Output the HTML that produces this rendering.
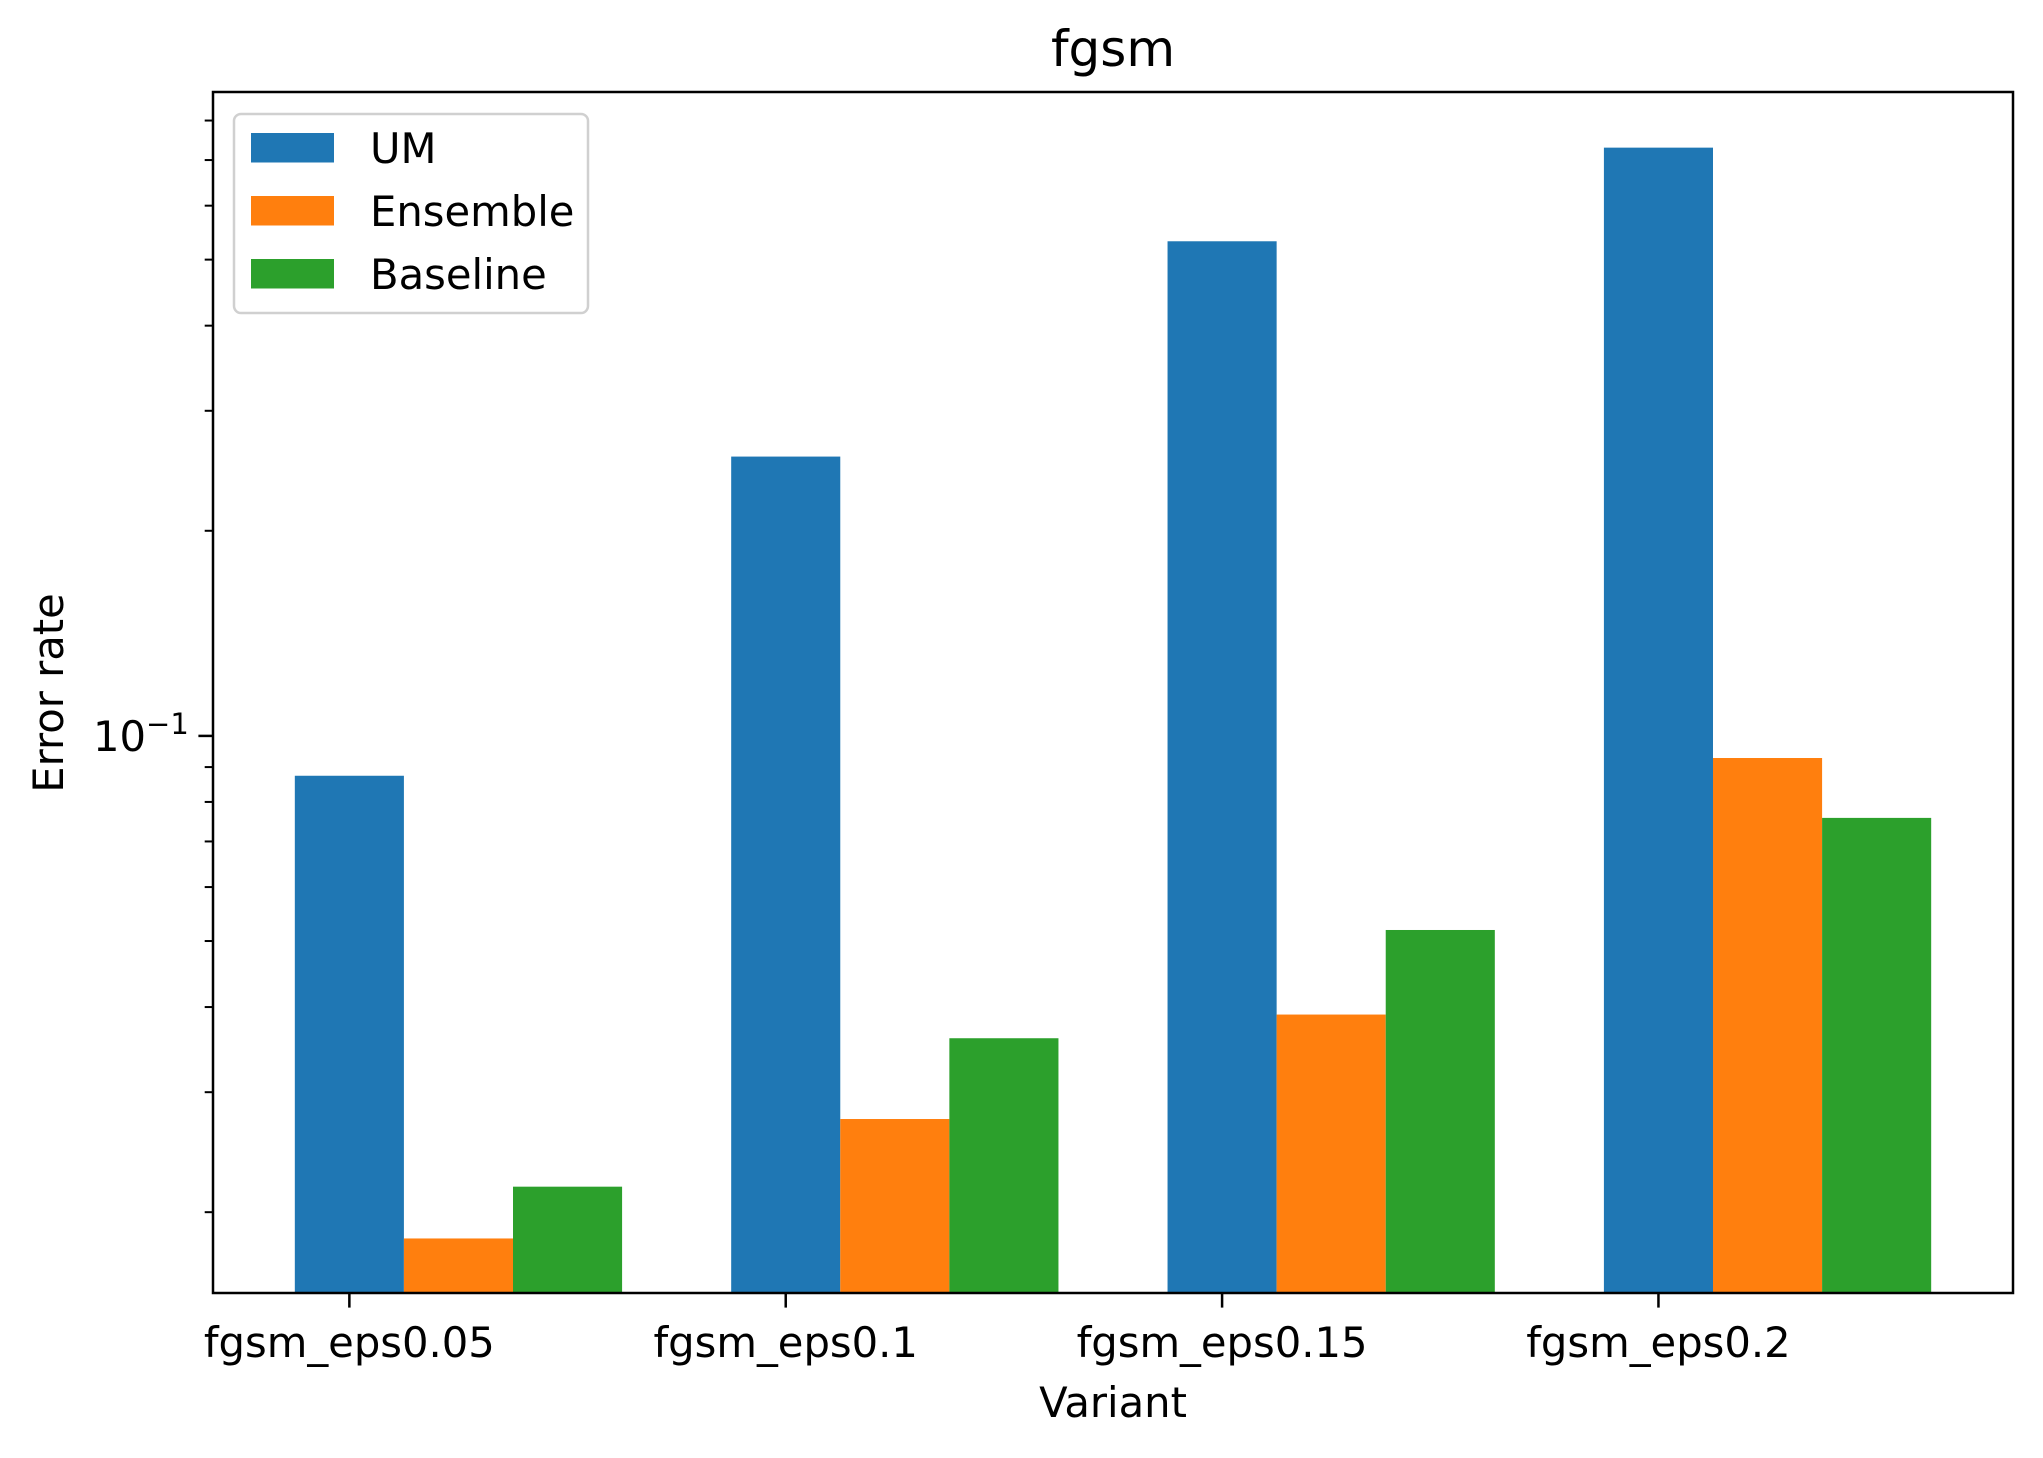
<!DOCTYPE html>
<html><head><meta charset="utf-8"><style>
html,body{margin:0;padding:0;background:#fff;}
svg text{font-family:"DejaVu Sans","Liberation Sans",sans-serif;fill:#000;}
</style></head><body>
<svg id="chart" width="2043" height="1453" viewBox="0 0 2043 1453" xmlns="http://www.w3.org/2000/svg">
<rect x="0" y="0" width="2043" height="1453" fill="#fff"/>
<g id="bars"></g>
<g id="yticks"></g>
<g id="xticks"></g>
<rect x="213" y="92" width="1800" height="1201" fill="none" stroke="#000" stroke-width="2.5"/>
<text x="1113" y="66" font-size="50" text-anchor="middle">fgsm</text>
<text x="1113" y="1417" font-size="41.7" text-anchor="middle">Variant</text>
<text transform="translate(63,693) rotate(-90)" font-size="41.7" text-anchor="middle">Error rate</text>
<g>
<rect x="234" y="114" width="354" height="199" rx="7" fill="#fff" fill-opacity="0.8" stroke="#d0d0d0" stroke-width="2.5"/>
<g id="legend-items"></g>
</g>
</svg>
<script>
const categories = ["fgsm_eps0.05","fgsm_eps0.1","fgsm_eps0.15","fgsm_eps0.2"];
const seriesNames = ["UM","Ensemble","Baseline"];
const umValues = [0.0874, 0.257, 0.532, 0.730];
const ensembleValues = [0.0183, 0.0274, 0.0390, 0.0928];
const baselineValues = [0.0218, 0.0360, 0.0519, 0.0758];
const seriesColors = ["#1f77b4","#ff7f0e","#2ca02c"];
const majorTicks = [0.1];
const majorTickLabels = ["10"];
const minorTicks = [0.02,0.03,0.04,0.05,0.06,0.07,0.08,0.09,0.2,0.3,0.4,0.5,0.6,0.7,0.8];

const NS = "http://www.w3.org/2000/svg";
const L = 213, R = 2013, T = 92, B = 1293;
const xMin = -0.3125, xMax = 3.8125;
const yMin = Math.log10(0.01522), yMax = Math.log10(0.881);
function xScale(v){ return L + (v - xMin) / (xMax - xMin) * (R - L); }
function yScale(v){ return B - (Math.log10(v) - yMin) / (yMax - yMin) * (B - T); }
function mk(tag, attrs){ const e = document.createElementNS(NS, tag); for (const k in attrs) e.setAttribute(k, attrs[k]); return e; }

const allSeries = [umValues, ensembleValues, baselineValues];
const barsG = document.getElementById("bars");
const barW = 0.25;
allSeries.forEach((vals, s) => {
  vals.forEach((v, i) => {
    const cx = i + s * barW;
    const x0 = xScale(cx - barW/2), x1 = xScale(cx + barW/2);
    const y = yScale(v);
    const r = mk("rect", {x: x0, y: y, width: x1 - x0, height: B - y, fill: seriesColors[s]});
    
    
    barsG.appendChild(r);
  });
});

const yt = document.getElementById("yticks");
majorTicks.forEach((t, i) => {
  const y = yScale(t);
  const ln = mk("line", {x1: L - 14.6, x2: L, y1: y, y2: y, stroke: "#000", "stroke-width": 2.5});
  
  
  yt.appendChild(ln);
  const tx = mk("text", {x: 93, y: y + 15, "font-size": 41.7});
  
  
  tx.textContent = majorTickLabels[i];
  const sup = mk("tspan", {dy: -17, "font-size": 29});
  sup.textContent = "\u22121";
  tx.appendChild(sup);
  yt.appendChild(tx);
});
minorTicks.forEach(t => {
  const y = yScale(t);
  const ln = mk("line", {x1: L - 8.3, x2: L, y1: y, y2: y, stroke: "#000", "stroke-width": 2});
  
  
  yt.appendChild(ln);
});

const xt = document.getElementById("xticks");
categories.forEach((c, i) => {
  const xc = xScale(i);
  const ln = mk("line", {x1: xc, x2: xc, y1: B, y2: B + 14.6, stroke: "#000", "stroke-width": 2.5});
  
  
  xt.appendChild(ln);
  const tx = mk("text", {x: xc, y: 1357, "font-size": 41.7, "text-anchor": "middle"});
  
  
  tx.textContent = c;
  xt.appendChild(tx);
});

const lg = document.getElementById("legend-items");
const legendY = [133, 196, 259];
seriesNames.forEach((n, s) => {
  const r = mk("rect", {x: 251, y: legendY[s], width: 83, height: 29.5, fill: seriesColors[s]});
  
  
  lg.appendChild(r);
  const t = mk("text", {x: 370, y: legendY[s] + 30, "font-size": 41.7});
  
  
  t.textContent = n;
  lg.appendChild(t);
});
</script>
</body></html>
